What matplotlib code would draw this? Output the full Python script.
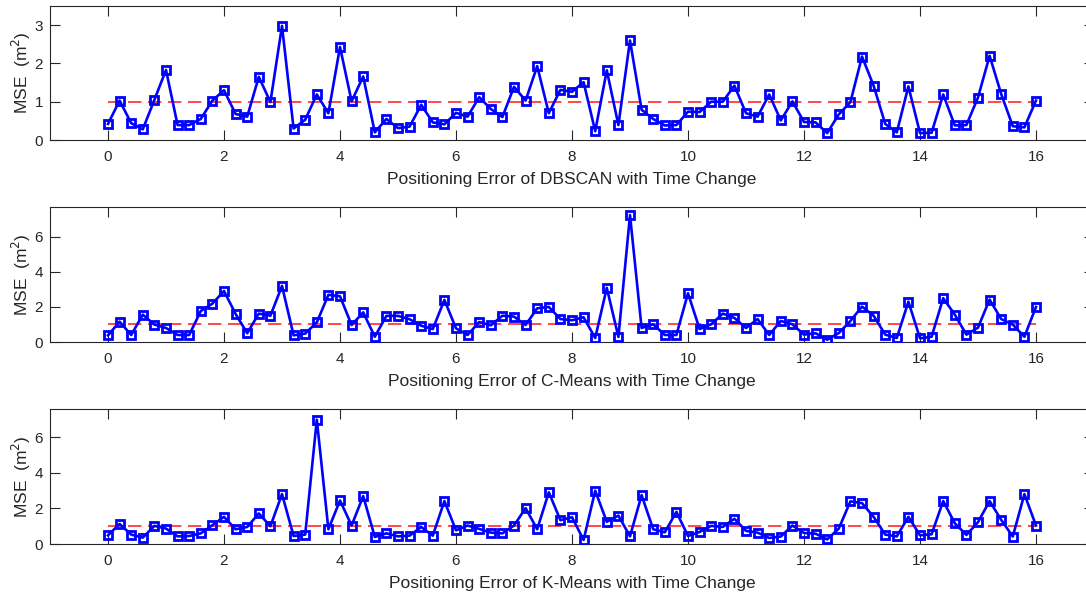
import numpy as np
import matplotlib
matplotlib.use("Agg")
import matplotlib.pyplot as plt

plt.rcParams['font.family'] = ['Liberation Sans', 'DejaVu Sans']

time = [round(0.2 * i, 1) for i in range(81)]

dbscan = [0.42, 1.03, 0.44, 0.28, 1.05, 1.83, 0.39, 0.39, 0.55, 1.03,
          1.30, 0.68, 0.61, 1.65, 0.99, 2.98, 0.30, 0.53, 1.19, 0.70,
          2.43, 1.01, 1.66, 0.20, 0.55, 0.31, 0.35, 0.92, 0.46, 0.41,
          0.71, 0.61, 1.12, 0.81, 0.60, 1.39, 1.03, 1.93, 0.70, 1.31,
          1.26, 1.51, 0.23, 1.82, 0.39, 2.60, 0.79, 0.55, 0.38, 0.39,
          0.74, 0.73, 1.00, 1.00, 1.42, 0.70, 0.61, 1.19, 0.51, 1.01,
          0.47, 0.46, 0.18, 0.67, 0.99, 2.18, 1.42, 0.42, 0.20, 1.40,
          0.18, 0.19, 1.19, 0.38, 0.39, 1.11, 2.20, 1.20, 0.36, 0.33,
          1.03]

cmeans = [0.38, 1.16, 0.40, 1.56, 0.99, 0.80, 0.40, 0.40, 1.77, 2.19,
          2.91, 1.60, 0.50, 1.62, 1.50, 3.20, 0.38, 0.48, 1.12, 2.69,
          2.61, 0.97, 1.69, 0.30, 1.49, 1.49, 1.30, 0.93, 0.74, 2.40,
          0.78, 0.40, 1.14, 0.95, 1.50, 1.45, 0.97, 1.92, 2.00, 1.31,
          1.24, 1.41, 0.23, 3.09, 0.29, 7.24, 0.80, 1.01, 0.40, 0.40,
          2.78, 0.74, 1.01, 1.62, 1.37, 0.80, 1.31, 0.40, 1.20, 1.01,
          0.42, 0.50, 0.13, 0.51, 1.20, 2.02, 1.50, 0.42, 0.23, 2.30,
          0.21, 0.30, 2.50, 1.56, 0.42, 0.82, 2.42, 1.31, 0.99, 0.30,
          2.00]

kmeans = [0.49, 1.13, 0.53, 0.36, 1.02, 0.87, 0.43, 0.45, 0.60, 1.06,
          1.53, 0.83, 0.96, 1.72, 1.00, 2.81, 0.45, 0.53, 7.00, 0.83,
          2.45, 1.04, 2.70, 0.40, 0.60, 0.43, 0.47, 0.96, 0.47, 2.42,
          0.77, 1.04, 0.85, 0.64, 0.60, 1.04, 2.02, 0.83, 2.91, 1.34,
          1.51, 0.23, 3.00, 1.25, 1.60, 0.43, 2.75, 0.83, 0.66, 1.81,
          0.45, 0.68, 1.02, 0.96, 1.42, 0.74, 0.64, 0.34, 0.42, 1.04,
          0.62, 0.58, 0.26, 0.87, 2.40, 2.30, 1.53, 0.53, 0.43, 1.53,
          0.49, 0.55, 2.42, 1.17, 0.51, 1.23, 2.42, 1.36, 0.42, 2.81,
          1.04]

threshold = 1.0
titles = ["Positioning Error of DBSCAN with Time Change",
          "Positioning Error of C-Means with Time Change",
          "Positioning Error of K-Means with Time Change"]
series = [dbscan, cmeans, kmeans]
ylims = [(0, 3.5), (0, 7.7), (0, 7.6)]
yticks = [[0, 1, 2, 3], [0, 2, 4, 6], [0, 2, 4, 6]]
xticks = list(range(0, 17, 2))

W, H = 1086, 597
fig = plt.figure(figsize=(W / 100, H / 100), dpi=100)
boxes = [(6, 140), (207, 342), (409, 544)]
left_px, right_px = 50, 1094
txtc = '#262626'
for i, (vals, ttl) in enumerate(zip(series, titles)):
    top, bot = boxes[i]
    ax = fig.add_axes([left_px / W, 1 - bot / H, (right_px - left_px) / W, (bot - top) / H])
    ax.plot([time[0], time[-1]], [threshold, threshold], color='#ff2a2a',
            linestyle=(0, (8, 4)), linewidth=1.2, zorder=2)
    ax.plot(time, vals, color='#0000ff', linewidth=1.9, marker='s',
            markersize=5.5, markerfacecolor='none', markeredgecolor='#0000ff',
            markeredgewidth=2.0, zorder=3)
    ax.set_xlim(-1, 17)
    ax.set_ylim(*ylims[i])
    ax.set_xticks(xticks)
    ax.set_yticks(yticks[i])
    ax.tick_params(direction='in', length=7, width=0.8, top=True, right=True,
                   labelsize=11, colors=txtc, pad=7)
    ax.tick_params(axis='y', pad=5)
    for s in ax.spines.values():
        s.set_color(txtc)
        s.set_linewidth(0.8)
    ax.spines['right'].set_visible(False)
    ax.set_xlabel(ttl, fontsize=12.5, color=txtc, labelpad=6)
    ax.set_ylabel('MSE  (m$^2$)', fontsize=12.5, color=txtc, labelpad=1)

fig.savefig('out.png', dpi=100)
